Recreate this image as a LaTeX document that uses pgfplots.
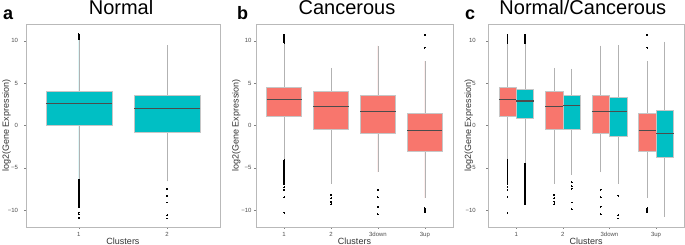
\documentclass[border=0pt]{standalone}
\usepackage{pgfplots}
\pgfplotsset{compat=1.18}
\usepgfplotslibrary{statistics}
\usepackage{fontspec}
\setmainfont{Liberation Sans}
\definecolor{ggred}{HTML}{F8766D}
\definecolor{ggteal}{HTML}{00BFC4}
\definecolor{ggtick}{HTML}{4D4D4D}
\pgfplotsset{
  gg/.style={
    scale only axis, height=203pt,
    ymin=-12, ymax=12,
    ytick={-10,-5,0,5,10},
    yticklabels={−10,−5,0,5,10},
    xmin=0.4,
    tick align=outside,
    xtick pos=left, ytick pos=left,
    major tick length=2pt,
    tick style={ggtick!70, line width=0.4pt},
    axis line style={gray!55, line width=0.6pt},
    ticklabel style={font=\fontsize{6}{7}\selectfont, text=ggtick},
    xlabel={Clusters},
    ylabel={log2(Gene Expression)},
    label style={font=\fontsize{9}{10}\selectfont, text=black!80},
    xlabel style={at={(axis description cs:0.5,-0.069)}, anchor=center},
    ylabel style={at={(axis description cs:-0.1,0.5)}, anchor=center},
    boxplot/draw direction=y,
    boxplot/whisker extend=0,
    clip=false,
  },
  bx/.style={draw=gray!50, color=gray!50, line width=0.5pt, fill=#1, mark=*, mark size=0.45pt,
    mark options={draw=black, fill=black, line width=0pt},
    boxplot/every whisker/.style={draw=gray!60, line width=0.6pt},
    boxplot/every box/.style={draw=gray!45, fill=#1, line width=0.5pt},
    boxplot/every median/.style={draw=black!70, line width=1.1pt}},
}
\begin{document}
\begin{tikzpicture}
\useasboundingbox (0,0) rectangle (685pt,245pt);
% ---------------- panel a
\begin{axis}[gg, at={(26pt,18pt)}, anchor=south west, width=194pt,
  xmax=2.6, xtick={1,2}, xticklabels={1,2},
  yticklabel style={xshift=-2.5pt}]
\addplot[bx=ggteal, boxplot prepared={draw position=1, box extend=0.75,
  lower whisker=-6.3, lower quartile=0, median=2.55, upper quartile=4.1, upper whisker=10.1}]
  table[row sep=\\, y index=0] {10.2\\10.35\\10.5\\10.65\\10.8\\
  -6.4\\-6.55\\-6.7\\-6.85\\-7.0\\-7.15\\-7.3\\-7.45\\-7.6\\-7.75\\-7.9\\-8.05\\-8.2\\-8.35\\-8.5\\
  -8.65\\-8.8\\-8.95\\-9.1\\-9.25\\-9.4\\-9.55\\-9.7\\
  -10.3\\-10.5\\-10.9\\};
\addplot[bx=ggteal, boxplot prepared={draw position=2, box extend=0.75,
  lower whisker=-6.6, lower quartile=-0.75, median=2.05, upper quartile=3.6, upper whisker=9.5}]
  table[row sep=\\, y index=0] {-7.5\\-8.3\\-9.1\\-10.6\\-11.0\\};
\node[anchor=base, font=\fontsize{20}{24}\selectfont] at (rel axis cs:0.49,1) [yshift=9pt] {Normal};
\end{axis}
% ---------------- panel b
\begin{axis}[gg, at={(256pt,18pt)}, anchor=south west, width=197pt,
  xmax=4.6, xtick={1,2,3,4}, xticklabels={1,2,3down,3up},
  yticklabel style={xshift=1pt}]
\addplot[bx=ggred, boxplot prepared={draw position=1, box extend=0.75,
  lower whisker=-4.0, lower quartile=1.05, median=3.1, upper quartile=4.5, upper whisker=9.7}]
  table[row sep=\\, y index=0] {9.8\\9.95\\10.1\\10.25\\10.4\\10.55\\10.7\\
  -4.1\\-4.25\\-4.4\\-4.55\\-4.7\\-4.85\\-5.0\\-5.15\\-5.3\\-5.45\\-5.6\\-5.75\\-5.9\\-6.05\\-6.2\\
  -6.35\\-6.5\\-6.65\\-6.8\\-6.95\\-7.3\\-7.6\\-8.5\\-10.3\\};
\addplot[bx=ggred, boxplot prepared={draw position=2, box extend=0.75,
  lower whisker=-6.9, lower quartile=-0.45, median=2.2, upper quartile=4.05, upper whisker=6.8}]
  table[row sep=\\, y index=0] {-8.2\\-8.6\\-9.0\\-9.3\\};
\addplot[bx=ggred, boxplot prepared={draw position=3, box extend=0.75,
  lower whisker=-5.5, lower quartile=-0.9, median=1.7, upper quartile=3.55, upper whisker=9.45}]
  table[row sep=\\, y index=0] {-7.6\\-8.5\\-9.6\\-10.5\\};
\addplot[bx=ggred, boxplot prepared={draw position=4, box extend=0.75,
  lower whisker=-8.6, lower quartile=-3.0, median=-0.55, upper quartile=1.4, upper whisker=7.6}]
  table[row sep=\\, y index=0] {9.2\\10.7\\-9.8\\-9.95\\-10.1\\-10.25\\};
\node[anchor=base, font=\fontsize{20}{24}\selectfont] at (rel axis cs:0.462,1) [yshift=9pt] {Cancerous};
\end{axis}
% ---------------- panel c
\begin{axis}[gg, at={(488.3pt,18pt)}, anchor=south west, width=195.7pt,
  xmax=4.6, xtick={1,2,3,4}, xticklabels={1,2,3down,3up},
  yticklabel style={xshift=-7pt}]
\addplot[bx=ggred, boxplot prepared={draw position=0.8125, box extend=0.375,
  lower whisker=-4.0, lower quartile=1.05, median=3.1, upper quartile=4.5, upper whisker=9.7}]
  table[row sep=\\, y index=0] {9.8\\9.95\\10.1\\10.25\\10.4\\10.55\\10.7\\
  -4.1\\-4.25\\-4.4\\-4.55\\-4.7\\-4.85\\-5.0\\-5.15\\-5.3\\-5.45\\-5.6\\-5.75\\-5.9\\-6.05\\-6.2\\
  -6.35\\-6.5\\-6.65\\-6.8\\-6.95\\-7.3\\-7.6\\-8.5\\-10.3\\};
\addplot[bx=ggteal, boxplot prepared={draw position=1.1875, box extend=0.375,
  lower whisker=-4.4, lower quartile=0.85, median=2.9, upper quartile=4.3, upper whisker=9.6}]
  table[row sep=\\, y index=0] {9.7\\9.85\\10.0\\10.15\\10.3\\10.45\\10.6\\10.75\\
  -4.5\\-4.65\\-4.8\\-4.95\\-5.1\\-5.25\\-5.4\\-5.55\\-5.7\\-5.85\\-6.0\\-6.15\\-6.3\\-6.45\\-6.6\\
  -6.75\\-6.9\\-7.05\\-7.2\\-7.35\\-7.5\\-7.65\\-7.8\\-7.95\\-8.1\\-8.25\\-8.4\\-8.55\\-8.7\\-8.85\\
  -9.0\\-9.15\\-9.3\\};
\addplot[bx=ggred, boxplot prepared={draw position=1.8125, box extend=0.375,
  lower whisker=-6.9, lower quartile=-0.45, median=2.2, upper quartile=4.05, upper whisker=6.8}]
  table[row sep=\\, y index=0] {-8.2\\-8.6\\-9.0\\-9.3\\};
\addplot[bx=ggteal, boxplot prepared={draw position=2.1875, box extend=0.375,
  lower whisker=-5.8, lower quartile=-0.45, median=2.35, upper quartile=3.6, upper whisker=6.7}]
  table[row sep=\\, y index=0] {-6.7\\-7.2\\-7.5\\-9.1\\-9.9\\};
\addplot[bx=ggred, boxplot prepared={draw position=2.8125, box extend=0.375,
  lower whisker=-5.5, lower quartile=-0.9, median=1.7, upper quartile=3.55, upper whisker=9.45}]
  table[row sep=\\, y index=0] {-7.6\\-8.5\\-9.6\\-10.5\\};
\addplot[bx=ggteal, boxplot prepared={draw position=3.1875, box extend=0.375,
  lower whisker=-6.9, lower quartile=-1.3, median=1.7, upper quartile=3.3, upper whisker=9.5}]
  table[row sep=\\, y index=0] {-8.3\\-10.6\\-11.0\\};
\addplot[bx=ggred, boxplot prepared={draw position=3.8125, box extend=0.375,
  lower whisker=-8.6, lower quartile=-3.0, median=-0.55, upper quartile=1.4, upper whisker=7.6}]
  table[row sep=\\, y index=0] {9.2\\10.7\\-9.8\\-9.95\\-10.1\\-10.25\\};
\addplot[bx=ggteal, boxplot prepared={draw position=4.1875, box extend=0.375,
  lower whisker=-10.8, lower quartile=-3.8, median=-0.9, upper quartile=1.8, upper whisker=9.9}]
  coordinates {};
\node[anchor=base, font=\fontsize{20}{24}\selectfont] at (rel axis cs:0.483,1) [yshift=9pt] {Normal/Cancerous};
\end{axis}
% panel letters
\node[anchor=base west, font=\bfseries\fontsize{18}{20}\selectfont, inner sep=0pt] at (3pt,225.5pt) {a};
\node[anchor=base west, font=\bfseries\fontsize{18}{20}\selectfont, inner sep=0pt] at (237pt,225.5pt) {b};
\node[anchor=base west, font=\bfseries\fontsize{18}{20}\selectfont, inner sep=0pt] at (465pt,225.5pt) {c};
\end{tikzpicture}
\end{document}
